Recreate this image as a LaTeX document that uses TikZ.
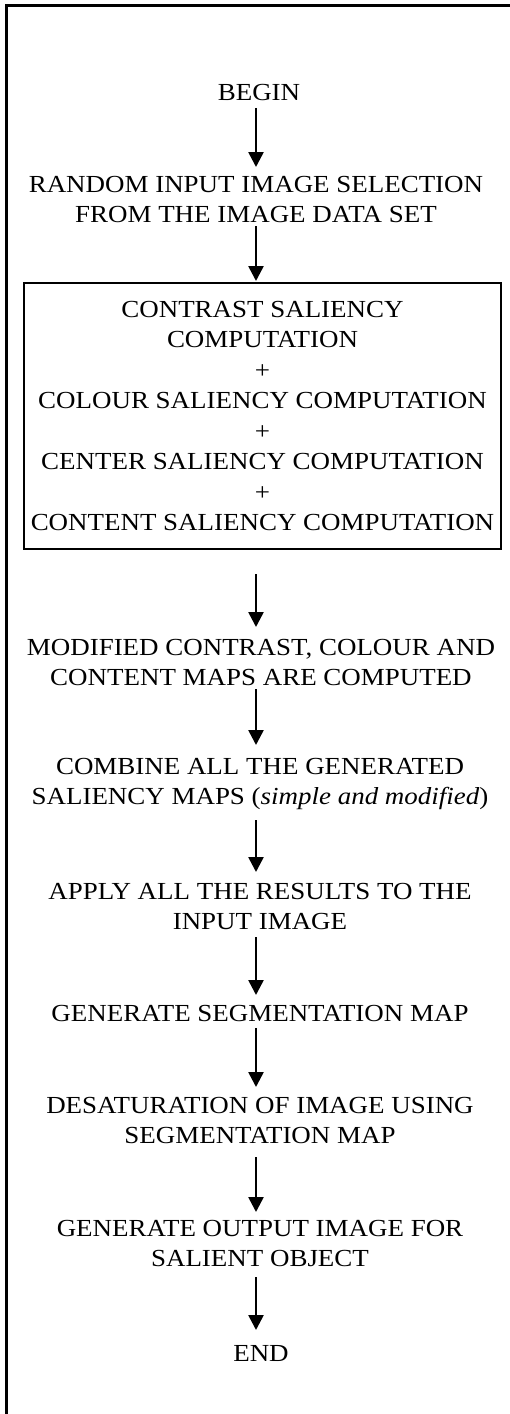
\documentclass[tikz,border=0pt]{standalone}
\usepackage{fontspec}
\setmainfont{Liberation Serif}[FakeStretch=1.1]
\usetikzlibrary{arrows.meta}

\tikzset{
    steptext/.style={anchor=north, inner sep=0pt, align=center},
    flow/.style={-{Triangle[width=15pt,length=15pt]}, line width=2.6pt}
}

\begin{document}
\begin{tikzpicture}[x=1pt, y=1pt, every node/.style={font=\fontsize{24.5pt}{30.5pt}\selectfont}]
    \useasboundingbox (0,0) rectangle (510,-1414);

    % Page frame (left and top)
    \draw[line width=2.2pt] (6.5,-1414) -- (6.5,-5.5) -- (510,-5.5);

    % Start
    \node[steptext] (begin) at (259,-84) {BEGIN};

    % Image selection
    \node[steptext] (select) at (256,-176) {RANDOM INPUT IMAGE SELECTION\\FROM THE IMAGE DATA SET};

    % Saliency computations
    \node[draw, line width=2pt, rectangle, inner sep=0pt, align=center,
          minimum width=477pt, minimum height=266pt] (saliency) at (262.5,-416)
          {CONTRAST SALIENCY\\COMPUTATION\\+\\COLOUR SALIENCY COMPUTATION\\+\\CENTER SALIENCY COMPUTATION\\+\\CONTENT SALIENCY COMPUTATION};

    % Modified maps
    \node[steptext] (modified) at (261,-639) {MODIFIED CONTRAST, COLOUR AND\\CONTENT MAPS ARE COMPUTED};

    % Combine
    \node[steptext] (combine) at (260,-758) {COMBINE ALL THE GENERATED\\SALIENCY MAPS (\textit{simple and modified})};

    % Apply
    \node[steptext] (apply) at (260,-883) {APPLY ALL THE RESULTS TO THE\\INPUT IMAGE};

    % Segmentation
    \node[steptext] (segment) at (260,-1005) {GENERATE SEGMENTATION MAP};

    % Desaturation
    \node[steptext] (desat) at (260,-1097) {DESATURATION OF IMAGE USING\\SEGMENTATION MAP};

    % Output
    \node[steptext] (output) at (260,-1220) {GENERATE OUTPUT IMAGE FOR\\SALIENT OBJECT};

    % End
    \node[steptext] (end) at (261,-1345) {END};

    % Arrows
    \draw[flow, shorten <=7pt, shorten >=9pt] (begin.south -| 256,0) -- (select.north -| 256,0);
    \draw[flow, shorten <=3pt, shorten >=1pt] (select.south -| 256,0) -- (saliency.north -| 256,0);
    \draw[flow, shorten <=24pt, shorten >=12pt] (saliency.south -| 256,0) -- (modified.north -| 256,0);
    \draw[flow, shorten <=3pt, shorten >=13pt] (modified.south -| 256,0) -- (combine.north -| 256,0);
    \draw[flow, shorten <=10pt, shorten >=11pt] (combine.south -| 256,0) -- (apply.north -| 256,0);
    \draw[flow, shorten <=7pt, shorten >=10pt] (apply.south -| 256,0) -- (segment.north -| 256,0);
    \draw[flow, shorten <=6pt, shorten >=10pt] (segment.south -| 256,0) -- (desat.north -| 256,0);
    \draw[flow, shorten <=13pt, shorten >=8pt] (desat.south -| 256,0) -- (output.north -| 256,0);
    \draw[flow, shorten <=10pt, shorten >=15pt] (output.south -| 256,0) -- (end.north -| 256,0);
\end{tikzpicture}
\end{document}
